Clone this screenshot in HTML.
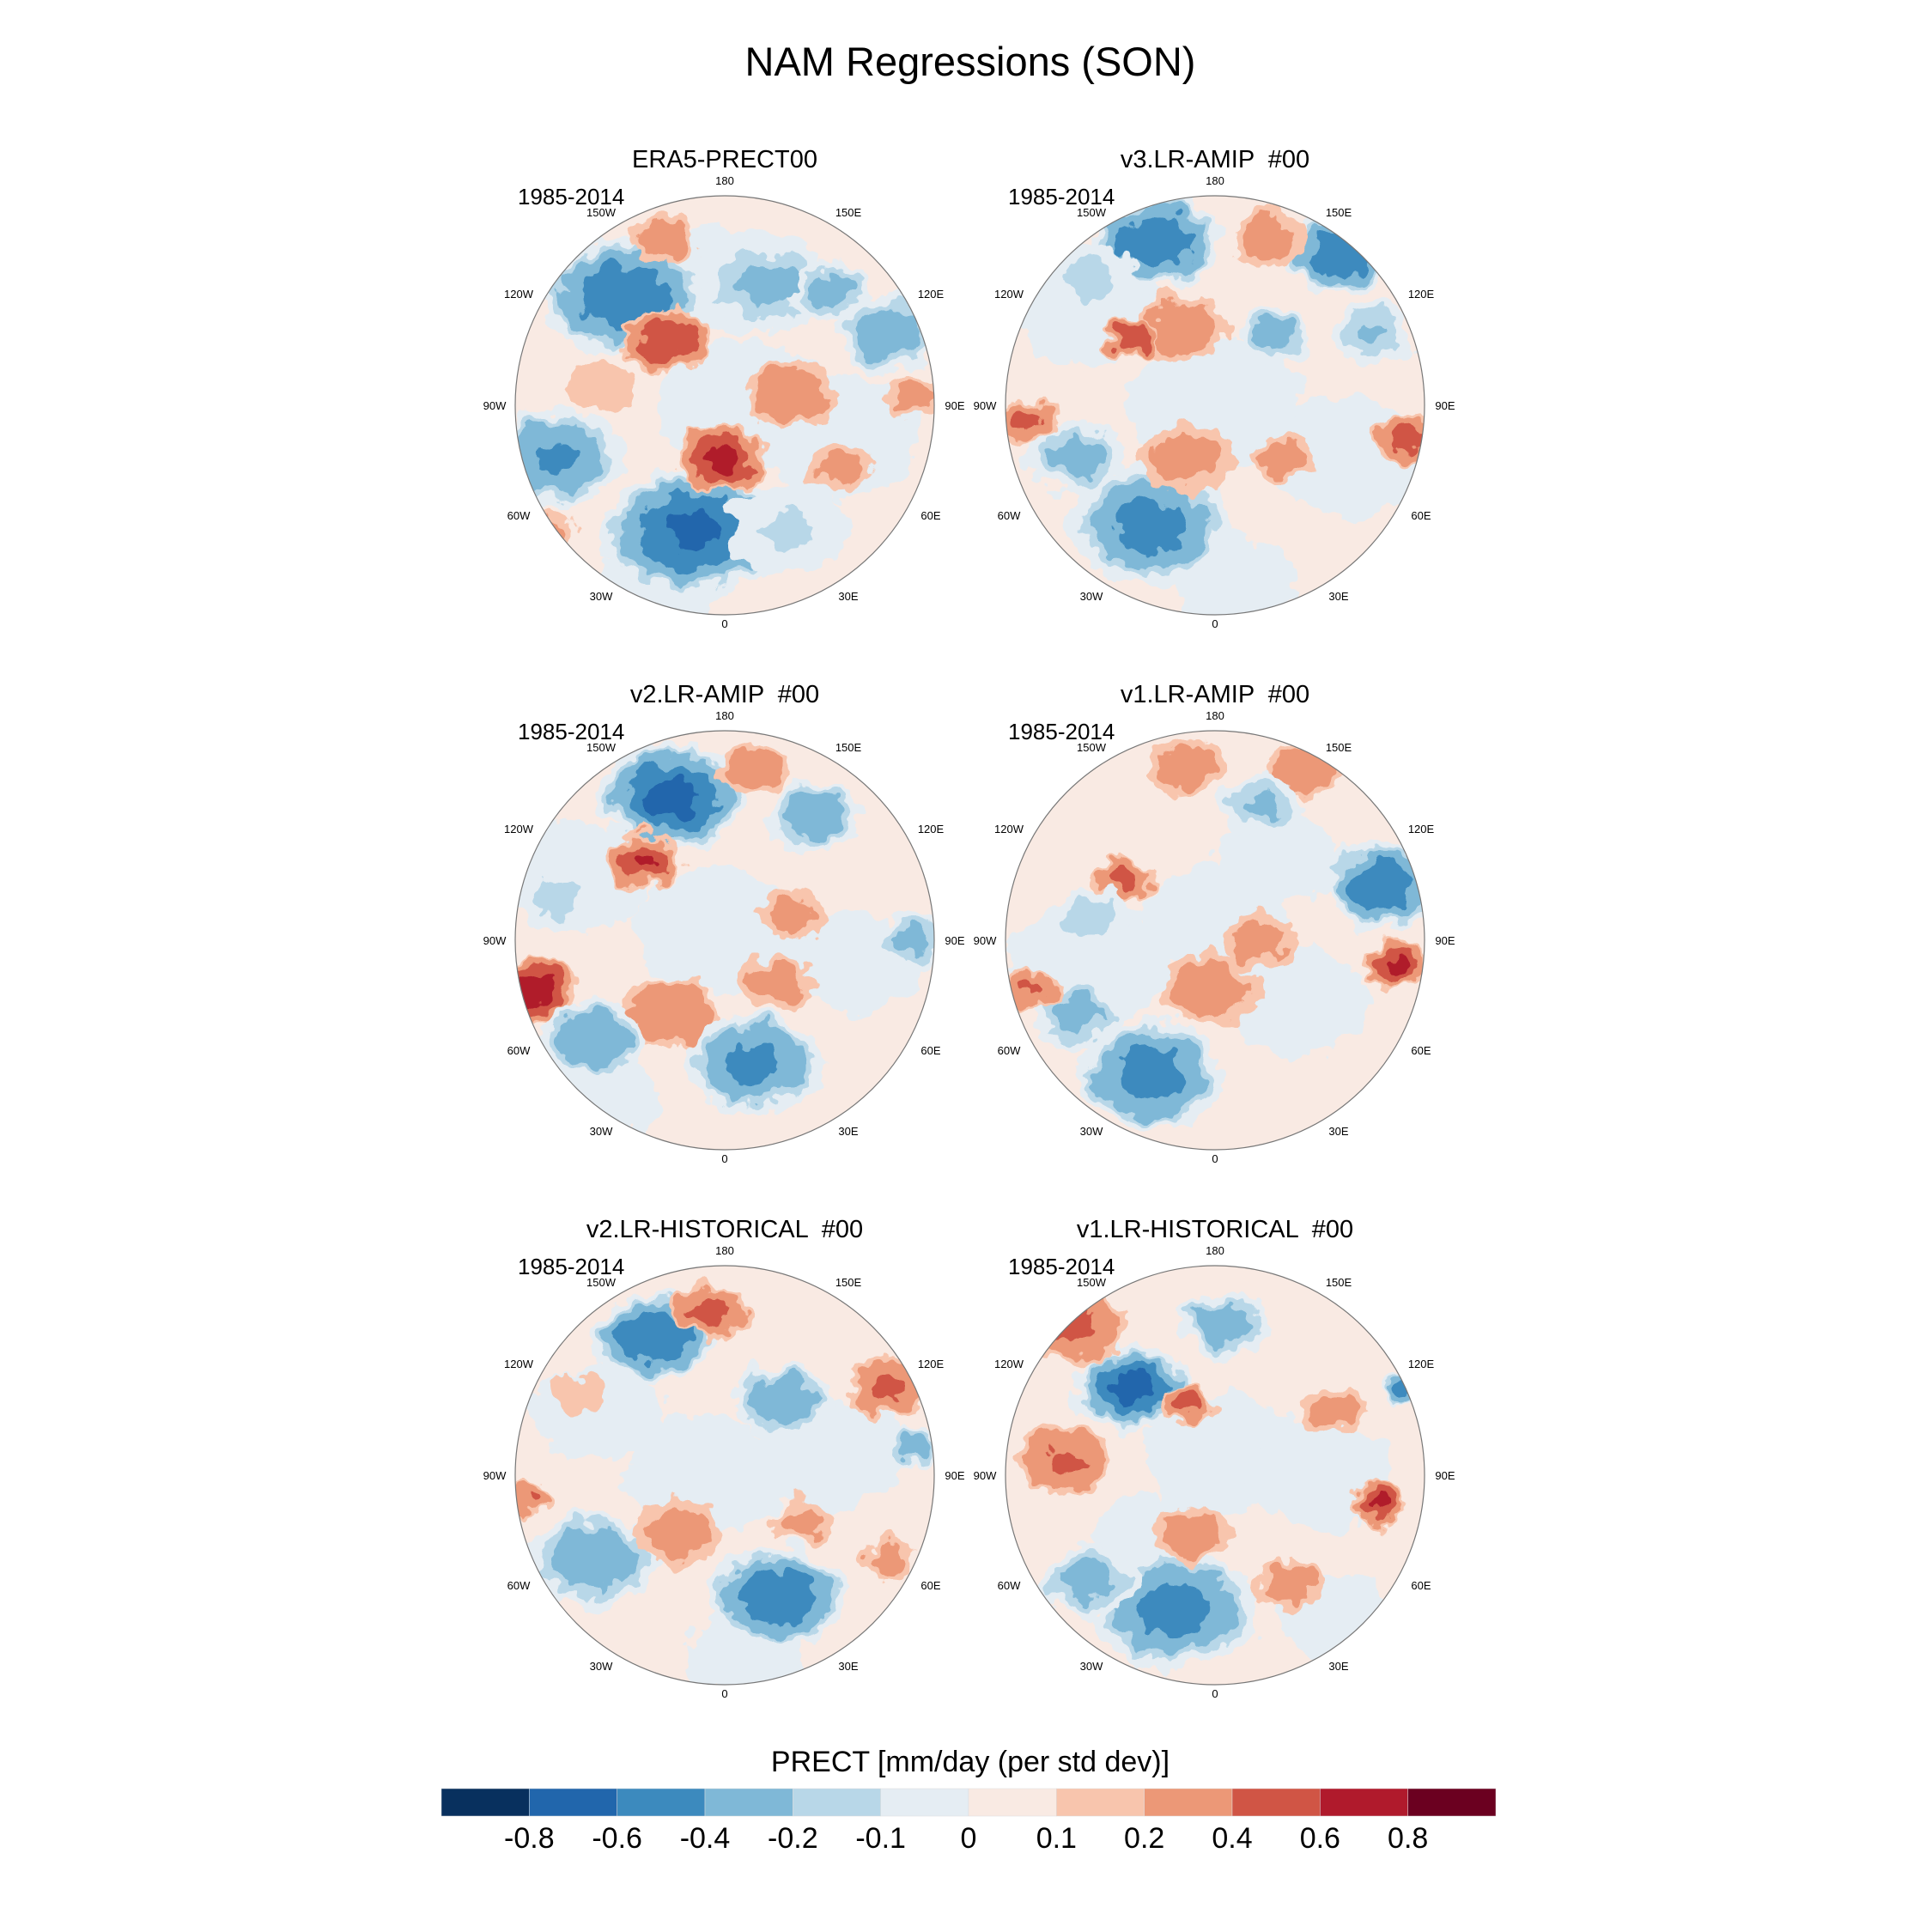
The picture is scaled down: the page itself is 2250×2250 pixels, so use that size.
<!DOCTYPE html>
<html><head><meta charset="utf-8"><title>NAM Regressions (SON)</title>
<style>
html,body{margin:0;padding:0;background:#fff;}
svg{display:block;}
text{font-family:"Liberation Sans",Arial,sans-serif;fill:#000;white-space:pre;}
</style></head>
<body>
<svg id="fig" xmlns="http://www.w3.org/2000/svg" width="2250" height="2250" viewBox="0 0 2250 2250">
<defs>
<filter id="rough" x="-10%" y="-10%" width="120%" height="120%">
<feTurbulence type="fractalNoise" baseFrequency="0.035" numOctaves="3" seed="4" result="n"/>
<feDisplacementMap in="SourceGraphic" in2="n" scale="38" xChannelSelector="R" yChannelSelector="G"/>
</filter>
</defs>
<text x="1130" y="88" font-size="47" text-anchor="middle">NAM Regressions (SON)</text>
<g id="panels"></g>
<text x="1130" y="2063" font-size="34" text-anchor="middle">PRECT [mm/day (per std dev)]</text>
<g id="cbar"></g>
</svg>
<script>
const colors = ["#08305e","#2166ac","#3c8abe","#7fb8d7","#b8d7e8","#e5edf3","#f9eae3","#f8c5ad","#ec9877","#d05545","#b01a2c","#6b0020"];
const levels = [-0.8,-0.6,-0.4,-0.2,-0.1,0,0.1,0.2,0.4,0.6,0.8];
const levelLabels = ["-0.8","-0.6","-0.4","-0.2","-0.1","0","0.1","0.2","0.4","0.6","0.8"];
const panelTitles = ["ERA5-PRECT00","v3.LR-AMIP  #00","v2.LR-AMIP  #00","v1.LR-AMIP  #00","v2.LR-HISTORICAL  #00","v1.LR-HISTORICAL  #00"];
const lonLabels = ["180","150E","120E","90E","60E","30E","0","30W","60W","90W","120W","150W"];
// blobs: [u, v, size, value]  (u,v normalised to map radius)
const blobsERA5 = [[0.1,0.0,0.22,-0.07],[0.55,0.15,0.2,-0.07],[-0.3,0.85,0.15,-0.06],[0.0,-0.6,0.18,-0.08],
 [-0.48,-0.52,0.2,-0.6],[-0.28,-0.31,0.12,0.6],[-0.8,0.25,0.16,-0.45],[-0.16,0.6,0.22,-0.65],[-0.01,0.25,0.13,0.65],[0.31,-0.05,0.14,0.4],[0.55,0.3,0.1,0.3],[0.78,-0.34,0.13,-0.35],[-0.28,-0.8,0.1,0.35],[0.2,-0.58,0.16,-0.25],[0.9,-0.05,0.09,0.3],[-0.86,0.6,0.09,0.35],[0.31,0.6,0.15,-0.12],[-0.6,-0.1,0.12,0.2],[0.5,-0.55,0.1,-0.3]];
const blobsV3 = [[0.0,0.0,0.22,-0.07],[0.65,0.25,0.2,-0.07],[-0.6,-0.45,0.18,-0.07],[0.1,0.85,0.15,-0.07],
 [-0.28,-0.78,0.16,-0.6],[0.6,-0.72,0.13,-0.6],[0.25,-0.8,0.12,0.3],[-0.16,-0.37,0.14,0.35],[-0.4,-0.31,0.08,0.6],[-0.31,0.57,0.2,-0.5],[-0.66,0.25,0.12,-0.3],[-0.9,0.07,0.09,0.45],[0.92,0.16,0.1,0.55],[-0.14,0.25,0.15,0.3],[0.34,0.25,0.1,0.3],[0.28,-0.34,0.1,-0.3],[0.75,-0.34,0.1,-0.22],[-0.6,-0.6,0.12,-0.15]];
const blobsV2A = [[-0.05,-0.05,0.2,-0.07],[-0.7,-0.3,0.18,-0.08],[0.6,0.1,0.17,-0.07],[-0.6,0.75,0.15,-0.08],
 [-0.25,-0.68,0.18,-0.7],[-0.39,-0.38,0.11,0.65],[-0.92,0.24,0.13,0.75],[-0.25,0.35,0.14,0.4],[0.14,0.59,0.17,-0.5],[0.25,0.2,0.12,0.3],[0.31,-0.12,0.1,0.3],[-0.63,0.47,0.13,-0.4],[0.43,-0.59,0.12,-0.35],[0.14,-0.82,0.11,0.35],[0.93,-0.65,0.06,0.55],[0.9,0,0.09,-0.25],[-0.8,-0.2,0.1,-0.15]];
const blobsV1A = [[0.0,-0.1,0.18,-0.07],[0.4,0.3,0.18,-0.07],[-0.6,0.1,0.2,-0.08],[0.3,-0.4,0.15,-0.07],
 [0.8,-0.26,0.15,-0.6],[0.86,0.12,0.09,0.65],[-0.43,-0.29,0.09,0.5],[-0.02,0.24,0.15,0.35],[0.22,0,0.12,0.3],[-0.31,0.64,0.18,-0.55],[-0.66,0.35,0.11,-0.3],[-0.14,-0.82,0.12,0.3],[0.45,-0.82,0.12,0.4],[0.22,-0.65,0.1,-0.25],[-0.87,0.24,0.08,0.45],[-0.6,-0.1,0.1,-0.2]];
const blobsV2H = [[-0.1,0.0,0.2,-0.07],[0.5,-0.1,0.18,-0.07],[-0.6,-0.3,0.16,-0.06],[0.1,0.85,0.15,-0.07],
 [-0.34,-0.66,0.15,-0.6],[-0.07,-0.78,0.11,0.5],[0.78,-0.42,0.12,0.45],[0.28,-0.36,0.12,-0.4],[0.25,0.58,0.17,-0.6],[-0.63,0.4,0.16,-0.4],[-0.22,0.28,0.14,0.3],[0.37,0.22,0.1,0.3],[-0.92,0.1,0.07,0.45],[0.9,-0.13,0.07,-0.3],[0.78,0.4,0.09,0.3],[-0.7,-0.4,0.1,0.2]];
const blobsV1H = [[0.05,-0.1,0.2,-0.07],[0.5,0.0,0.18,-0.07],[-0.3,0.3,0.15,-0.07],[0.6,0.7,0.15,-0.05],
 [-0.4,-0.42,0.14,-0.7],[-0.66,-0.72,0.15,0.45],[-0.72,-0.07,0.14,0.45],[-0.14,-0.34,0.08,0.5],[0.04,-0.72,0.11,-0.35],[-0.19,0.64,0.2,-0.5],[-0.11,0.28,0.12,0.35],[0.78,0.14,0.08,0.65],[0.34,0.52,0.11,0.35],[0.57,-0.31,0.11,0.3],[0.92,-0.4,0.06,-0.55],[-0.6,0.5,0.12,-0.3]];
const allBlobs = [blobsERA5,blobsV3,blobsV2A,blobsV1A,blobsV2H,blobsV1H];

const NS = "http://www.w3.org/2000/svg";
const colX = [844,1415], rowY = [472,1095,1718], R = 244;
function el(tag, attrs, parent){const e=document.createElementNS(NS,tag);for(const k in attrs)e.setAttribute(k,attrs[k]);parent.appendChild(e);return e;}
function colorFor(t, sign){
  let i = levels.indexOf(t);
  return sign>0 ? colors[i+1] : colors[i];
}
const panels = document.getElementById('panels');
allBlobs.forEach((blobs,p)=>{
  const cx = colX[p%2], cy = rowY[Math.floor(p/2)];
  const g = el('g',{},panels);
  
  
  const cp = el('clipPath',{id:'clip'+p},g);
  el('circle',{cx:cx,cy:cy,r:R},cp);
  const mg = el('g',{'clip-path':'url(#clip'+p+')'},g);
  const bg = el('circle',{cx:cx,cy:cy,r:R,fill:colors[6]},mg);
  
  
  const fg = el('g',{filter:'url(#rough)'},mg);
  blobs.forEach(b=>{
    const [u,v,s,val]=b, sign = val>0?1:-1;
    const bx = cx+u*R, by = cy+v*R, S = s*R*1.6;
    const ths = levels.filter(t=> sign>0 ? (t>0 && t<val) : (t<=0 && t>val));
    if(sign<0) ths.reverse();
    const bgp = el('g',{},fg);
    
    
    ths.forEach(t=>{
      const rr = t===0 ? S*1.05 : S*Math.sqrt(Math.max(0.02,1-t/val));
      el('ellipse',{cx:bx,cy:by,rx:rr*1.15,ry:rr*0.85,fill:colorFor(t,sign)},bgp);
    });
  });
  const ring = el('circle',{cx:cx,cy:cy,r:R,fill:'none',stroke:'#777','stroke-width':1.2},g);
  
  
  const tt = el('text',{x:cx,y:cy-R-33,'font-size':29,'text-anchor':'middle','xml:space':'preserve'},g);
  tt.textContent = panelTitles[p];
  
  
  const yr = el('text',{x:cx-241,y:cy-234,'font-size':26},g);
  yr.textContent = '1985-2014';
  
  
  const offs = [[0,-262],[144,-225],[240,-130],[268,0],[240,128],[144,222],[0,254],[-144,222],[-240,128],[-268,0],[-240,-130],[-144,-225]];
  lonLabels.forEach((l,i)=>{
    const t = el('text',{x:cx+offs[i][0],y:cy+offs[i][1]+5,'font-size':13,'text-anchor':'middle'},g);
    t.textContent = l;
    
    
  });
});
// colorbar
const cb = document.getElementById('cbar');
const x0 = 514, x1 = 1742, w = (x1-x0)/colors.length;
colors.forEach((c,i)=>{
  const r = el('rect',{x:x0+i*w,y:2083,width:w,height:32,fill:c,stroke:'#ddd','stroke-width':0.5},cb);
  
  
});
levelLabels.forEach((l,i)=>{
  const t = el('text',{x:x0+(i+1)*w,y:2152,'font-size':34,'text-anchor':'middle'},cb);
  t.textContent = l;
  
  
});
</script>
</body></html>
